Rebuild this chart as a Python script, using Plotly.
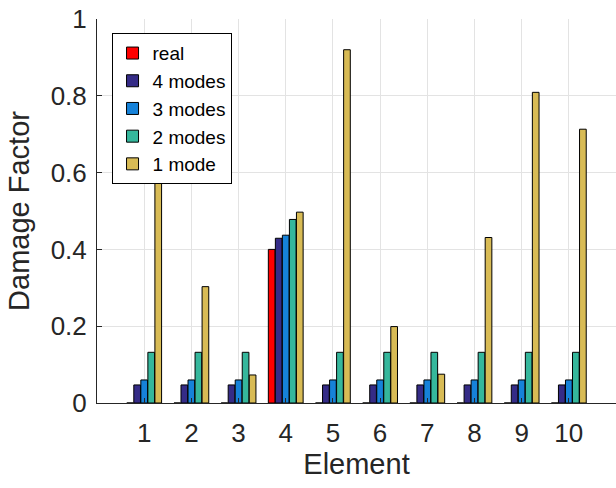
import plotly.graph_objects as go

elements = [1, 2, 3, 4, 5, 6, 7, 8, 9, 10]
tick_labels = ["1", "2", "3", "4", "5", "6", "7", "8", "9", "10"]
real = [0, 0, 0, 0.40, 0, 0, 0, 0, 0, 0]
modes4 = [0.047, 0.047, 0.047, 0.429, 0.047, 0.047, 0.047, 0.047, 0.047, 0.047]
modes3 = [0.060, 0.060, 0.060, 0.437, 0.060, 0.060, 0.060, 0.060, 0.060, 0.060]
modes2 = [0.132, 0.132, 0.132, 0.478, 0.132, 0.132, 0.132, 0.132, 0.132, 0.132]
mode1 = [0.572, 0.303, 0.073, 0.497, 0.920, 0.199, 0.075, 0.431, 0.809, 0.713]

series = [
    ("real", real, "#FF0000"),
    ("4 modes", modes4, "#352C87"),
    ("3 modes", modes3, "#1682D9"),
    ("2 modes", modes2, "#35B79C"),
    ("1 mode", mode1, "#D8BB55"),
]

fig = go.Figure()
for name, vals, col in series:
    fig.add_trace(go.Bar(
        x=elements, y=vals, name=name,
        marker=dict(color=col, line=dict(color="black", width=1)),
    ))

font_family = "Liberation Sans, Arial, sans-serif"
fig.update_layout(
    width=616, height=488,
    margin=dict(l=97, r=0, t=19, b=85),
    paper_bgcolor="white", plot_bgcolor="white",
    barmode="group", bargap=0.255, bargroupgap=0.05,
    font=dict(family=font_family, color="#262626"),
    legend=dict(
        x=0.028, y=0.963, xanchor="left", yanchor="top",
        bgcolor="white", bordercolor="black", borderwidth=1,
        font=dict(size=19, color="black"),
        tracegroupgap=0,
    ),
    xaxis=dict(
        range=[0, 11], tickvals=elements, ticktext=tick_labels,
        showgrid=True, gridcolor="#E3E3E3", gridwidth=1,
        showline=True, linecolor="#262626", linewidth=1,
        ticks="inside", ticklen=5, tickcolor="#262626",
        tickfont=dict(size=26, color="#262626"),
        ticklabelstandoff=7,
        title=dict(text="Element", font=dict(size=29, color="#262626"), standoff=6),
        zeroline=False,
    ),
    yaxis=dict(
        range=[0, 1], tickvals=[0, 0.2, 0.4, 0.6, 0.8, 1],
        ticktext=["0", "0.2", "0.4", "0.6", "0.8", "1"],
        showgrid=True, gridcolor="#E3E3E3", gridwidth=1,
        showline=True, linecolor="#262626", linewidth=1,
        ticks="inside", ticklen=5, tickcolor="#262626",
        tickfont=dict(size=26, color="#262626"),
        ticklabelstandoff=4,
        title=dict(text="Damage Factor", font=dict(size=29, color="#262626"), standoff=12),
        zeroline=False,
    ),
)

fig.write_html("out.html")
